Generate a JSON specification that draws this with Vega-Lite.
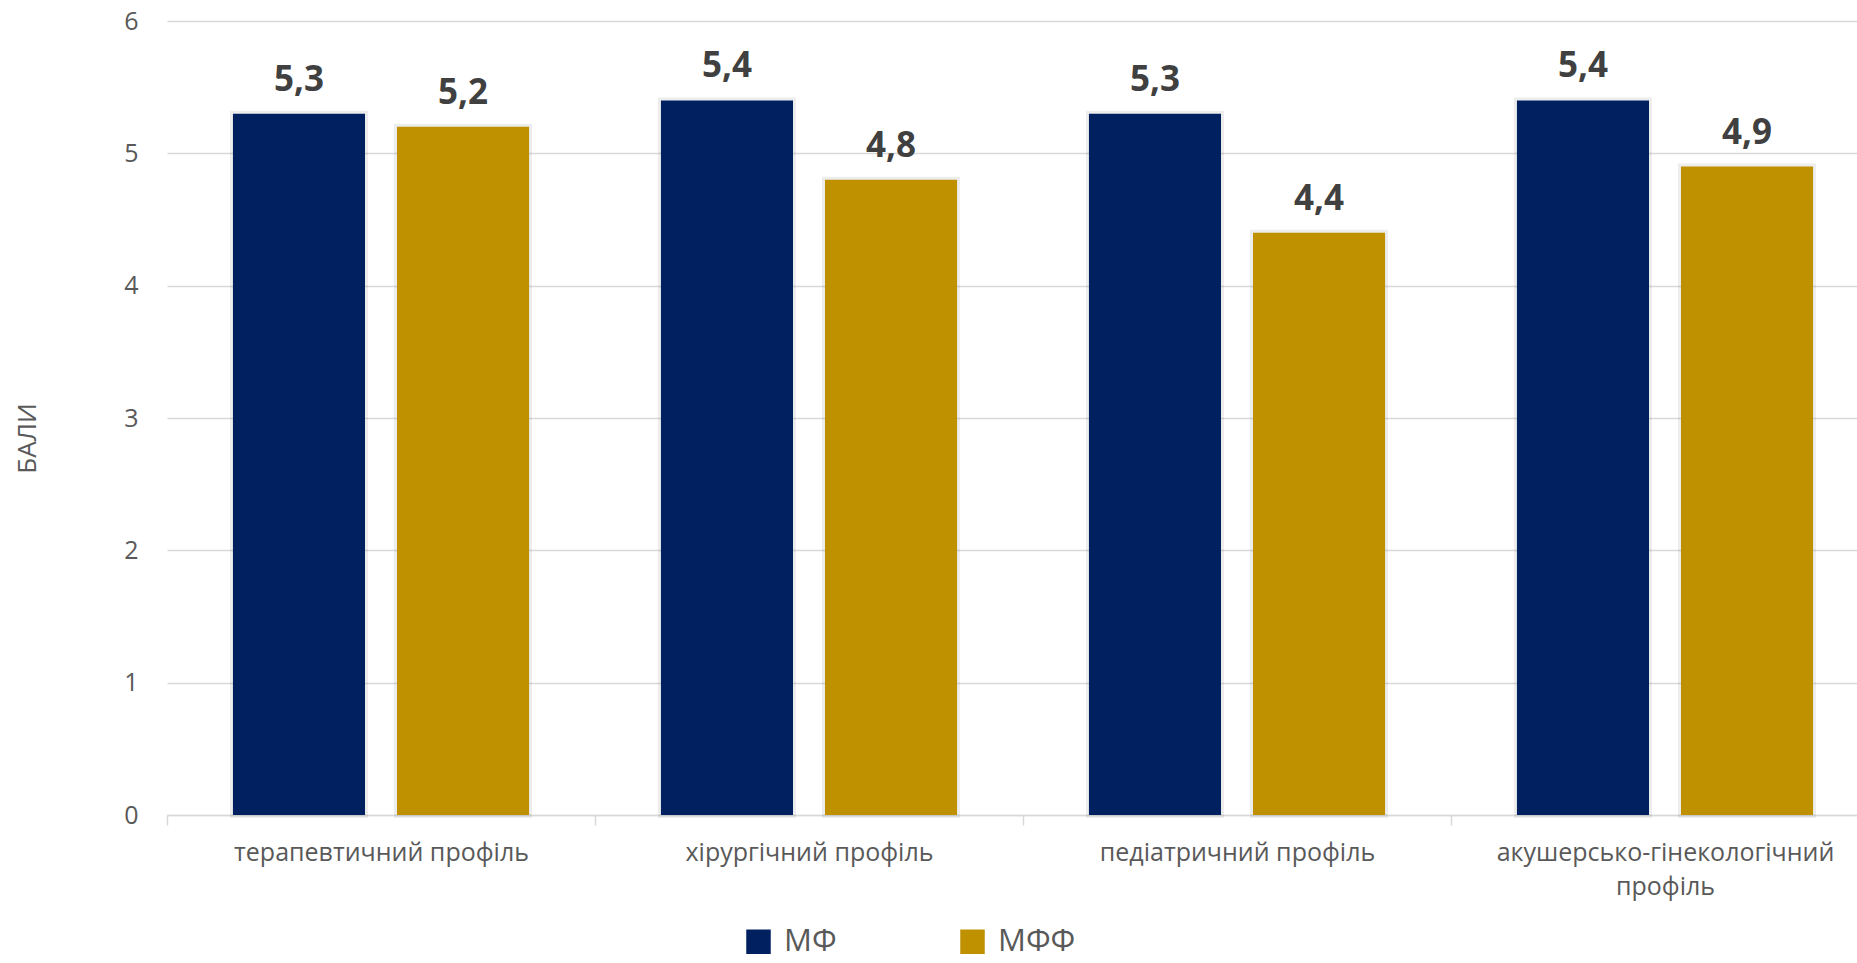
{
  "$schema": "https://vega.github.io/schema/vega-lite/v6.json",
  "autosize": {"type": "none"},
  "width": 1712,
  "height": 794,
  "padding": {"left": 167, "top": 21, "right": -22, "bottom": 148},
  "background": "#ffffff",
  "data": {
    "values": [
      {"profile": "терапевтичний профіль", "group": "МФ", "value": 5.3},
      {"profile": "терапевтичний профіль", "group": "МФФ", "value": 5.2},
      {"profile": "хірургічний профіль", "group": "МФ", "value": 5.4},
      {"profile": "хірургічний профіль", "group": "МФФ", "value": 4.8},
      {"profile": "педіатричний профіль", "group": "МФ", "value": 5.3},
      {"profile": "педіатричний профіль", "group": "МФФ", "value": 4.4},
      {"profile": "акушерсько-гінекологічний профіль", "group": "МФ", "value": 5.4},
      {"profile": "акушерсько-гінекологічний профіль", "group": "МФФ", "value": 4.9}
    ]
  },
  "encoding": {
    "x": {
      "field": "profile",
      "type": "nominal",
      "sort": null,
      "scale": {"paddingInner": 0, "paddingOuter": 0},
      "axis": {
        "title": null,
        "labelAngle": 0,
        "labelFont": "Open Sans",
        "labelFontSize": 25,
        "labelColor": "#595959",
        "labelPadding": 15,
        "labelLineHeight": 34,
        "labelLimit": 500,
        "labelExpr": "datum.value == 'акушерсько-гінекологічний профіль' ? ['акушерсько-гінекологічний', 'профіль'] : datum.label",
        "domainColor": "#d9d9d9",
        "domainWidth": 1.5,
        "ticks": true,
        "tickBand": "extent",
        "tickSize": 10,
        "tickColor": "#d9d9d9",
        "tickWidth": 1.5,
        "grid": false
      }
    },
    "xOffset": {
      "field": "group",
      "type": "nominal",
      "sort": ["МФ", "МФФ"],
      "scale": {"paddingInner": 0.195, "paddingOuter": 0.402}
    },
    "y": {
      "field": "value",
      "type": "quantitative",
      "scale": {"domain": [0, 6]},
      "axis": {
        "title": "БАЛИ",
        "titleFont": "Open Sans",
        "titleFontSize": 26,
        "titleFontWeight": "normal",
        "titleColor": "#595959",
        "titleAngle": -90,
        "titleX": -140,
        "titleY": 417,
        "titleAlign": "center",
        "titleBaseline": "middle",
        "values": [0, 1, 2, 3, 4, 5, 6],
        "format": "d",
        "labelFont": "Open Sans",
        "labelFontSize": 25,
        "labelColor": "#595959",
        "labelPadding": 29,
        "ticks": false,
        "domain": false,
        "grid": true,
        "gridColor": "#d9d9d9",
        "gridWidth": 1.5
      }
    }
  },
  "layer": [
    {
      "mark": {"type": "bar", "fill": "#ffffff", "stroke": "#000000", "strokeWidth": 6, "strokeOpacity": 0.07}
    },
    {
      "mark": {"type": "bar"},
      "encoding": {
        "color": {
          "field": "group",
          "type": "nominal",
          "sort": ["МФ", "МФФ"],
          "scale": {"domain": ["МФ", "МФФ"], "range": ["#002060", "#bf9000"]},
          "legend": {
            "title": null,
            "orient": "none",
            "direction": "horizontal",
            "legendX": 576,
            "legendY": 905,
            "symbolType": "square",
            "symbolSize": 600,
            "symbolStrokeWidth": 0,
            "symbolOpacity": 1,
            "labelFont": "Open Sans",
            "labelFontSize": 31,
            "labelColor": "#595959",
            "labelOffset": 10,
            "columnPadding": 120
          }
        }
      }
    },
    {
      "mark": {
        "type": "text",
        "baseline": "alphabetic",
        "dy": -23,
        "font": "Open Sans",
        "fontSize": 35,
        "fontWeight": "bold",
        "color": "#404040"
      },
      "encoding": {
        "text": {"field": "value", "type": "quantitative", "format": ".1f"}
      }
    }
  ],
  "config": {
    "view": {"stroke": null},
    "locale": {
      "number": {"decimal": ",", "thousands": " ", "grouping": [3], "currency": ["", ""]}
    }
  }
}
